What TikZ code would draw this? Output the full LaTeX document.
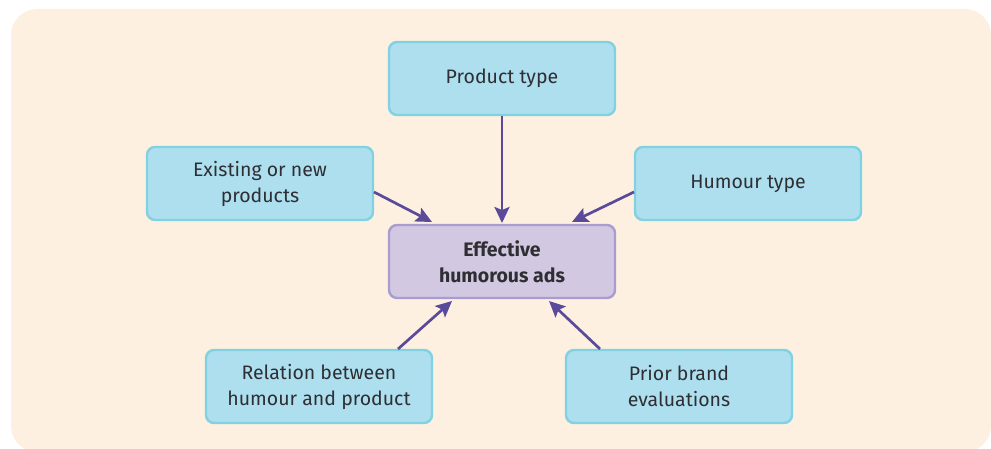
\documentclass[tikz,border=0pt]{standalone}
\usepackage{fontspec}
\setmainfont{Fira Sans}
\usetikzlibrary{arrows.meta}
\definecolor{bgc}{HTML}{FDF0E1}
\definecolor{boxfill}{HTML}{ADDFEF}
\definecolor{boxline}{HTML}{80D1E2}
\definecolor{midfill}{HTML}{D2C8E2}
\definecolor{midline}{HTML}{A99CD1}
\definecolor{arr}{HTML}{5A4A9C}
\definecolor{txt}{HTML}{2E2E33}
\tikzset{
  factor/.style={draw=boxline, fill=boxfill, line width=2.4pt, rounded corners=8pt,
    minimum width=226pt, minimum height=73pt, align=center, text=txt,
    font=\fontsize{19.5}{26}\selectfont},
  centre/.style={factor, draw=midline, fill=midfill, font=\fontsize{19.5}{26}\selectfont\bfseries},
  link/.style={draw=arr, line width=2.7pt, -{Stealth[length=16pt,width=15pt,inset=3pt]}}
}
\begin{document}
\begin{tikzpicture}[x=1pt,y=-1pt]
\useasboundingbox (0,0) rectangle (991,449);
\fill[bgc, rounded corners=26pt] (11,9) rectangle (991,452);
\node[factor] (pt) at (502,78.5) {Product type};
\node[factor] (ex) at (260,183.5) {Existing or new\\products};
\node[factor] (ht) at (748,183.5) {Humour type};
\node[centre] (eh) at (502,261.5) {Effective\\humorous ads};
\node[factor] (rb) at (319,386.5) {Relation between\\humour and product};
\node[factor] (pb) at (679,386.5) {Prior brand\\evaluations};
\coordinate (t1) at (502,223);
\coordinate (t2) at (432,222);
\coordinate (t3) at (572,222);
\coordinate (t4) at (452,301);
\coordinate (t5) at (549,301);
\coordinate (s2) at (374,192);
\coordinate (s3) at (634,192);
\coordinate (s4) at (398,349);
\coordinate (s5) at (600,349);
\draw[link] (pt.south) -- (t1);
\draw[link] (s2) -- (t2);
\draw[link] (s3) -- (t3);
\draw[link] (s4) -- (t4);
\draw[link] (s5) -- (t5);
\end{tikzpicture}
\end{document}
